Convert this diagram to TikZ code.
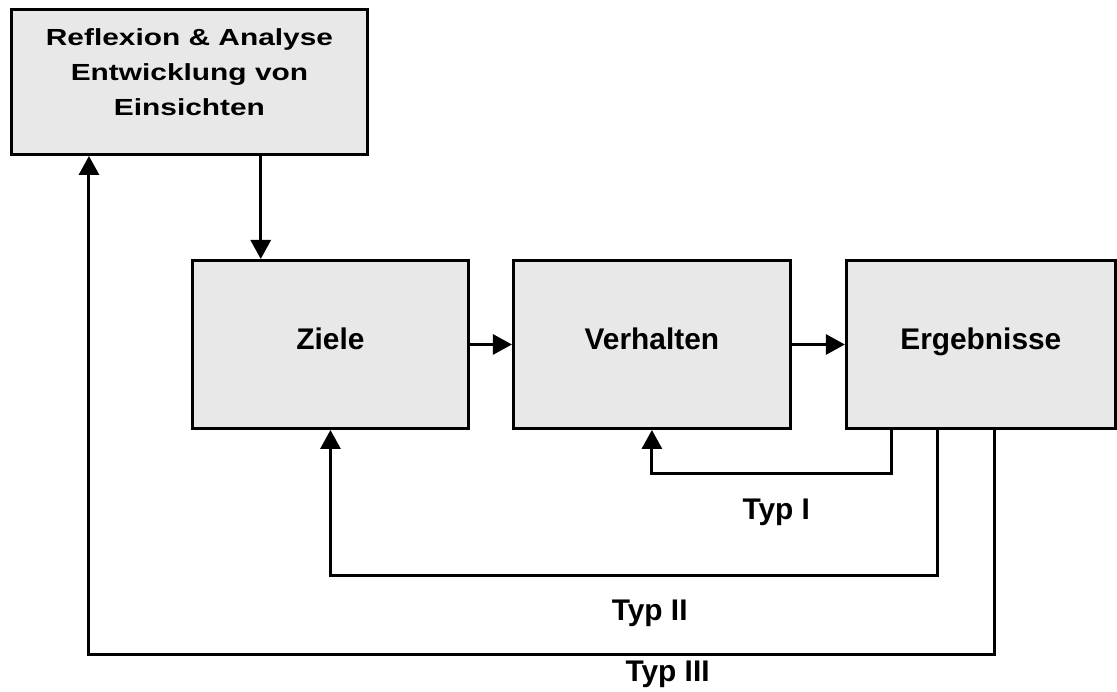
\documentclass[tikz,border=0pt]{standalone}
\usepackage{fontspec}
\setmainfont{Liberation Sans}
\usepackage{graphicx}
\usepackage{tikz}
\usetikzlibrary{positioning,calc,arrows.meta}

\newcommand{\squash}[1]{\scalebox{1}[0.78]{#1}}

\begin{document}
\begin{tikzpicture}[x=0.02cm, y=-0.02cm,
    box/.style={rectangle, draw, line width=0.06cm, fill=black!9, inner sep=0pt,
        font=\fontsize{17}{20}\selectfont\bfseries, text height=0.72em, text depth=0.2em},
    arr/.style={-{Triangle[width=0.4cm,length=0.38cm]}, line width=0.06cm},
    lbl/.style={font=\fontsize{17}{20}\selectfont\bfseries, anchor=base}]
    \useasboundingbox (0,0) rectangle (1117,692);

    % Nodes
    \node (refl) [rectangle, draw, line width=0.06cm, fill=black!9, inner sep=0pt, anchor=north west,
        minimum width=7.12cm, minimum height=2.9cm] at (10,8)
        {\raisebox{0.19cm}[\height][\depth]{\squash{\parbox{7cm}{\centering\fontsize{17}{25.6}\selectfont\bfseries
        Reflexion \& Analyse\\Entwicklung von\\Einsichten}}}};
    \node (ziele) [box, anchor=north west, minimum width=5.52cm, minimum height=3.36cm] at (191,259) {Ziele};
    \node (verhalten) [box, right=0.84cm of ziele, minimum width=5.54cm, minimum height=3.36cm] {Verhalten};
    \node (ergebnisse) [box, right=1.06cm of verhalten, minimum width=5.38cm, minimum height=3.36cm] {Ergebnisse};

    % Ports on the box edges
    \coordinate (in) at ($(ziele.north west)!0.25!(ziele.north east)$);
    \coordinate (out1) at ($(ergebnisse.south west)!0.17!(ergebnisse.south east)$);
    \coordinate (out2) at ($(ergebnisse.south west)!0.34!(ergebnisse.south east)$);
    \coordinate (out3) at ($(ergebnisse.south west)!0.55!(ergebnisse.south east)$);
    \coordinate (back3) at ($(refl.south west)!0.22!(refl.south east)$);

    % Connections
    \draw [arr] (ziele) -- (verhalten);
    \draw [arr] (verhalten) -- (ergebnisse);
    \draw [arr] (refl.south -| in) -- (in);

    % Feedback loops
    \draw [arr] (out1) -- ++(0,44) coordinate (c1)
        -- node[lbl, pos=0.48, yshift=-0.92cm] (typ1) {Typ I} (c1 -| verhalten.south) -- (verhalten.south);
    \draw [arr] (out2) -- ++(0,146) coordinate (c2)
        -- node[lbl, pos=0.474, yshift=-0.9cm] (typ2) {Typ II} (c2 -| ziele.south) -- (ziele.south);
    \draw [arr] (out3) -- ++(0,225) coordinate (c3)
        -- node[lbl, pos=0.361, yshift=-0.54cm] (typ3) {Typ III} (c3 -| back3) -- (back3);
\end{tikzpicture}
\end{document}
